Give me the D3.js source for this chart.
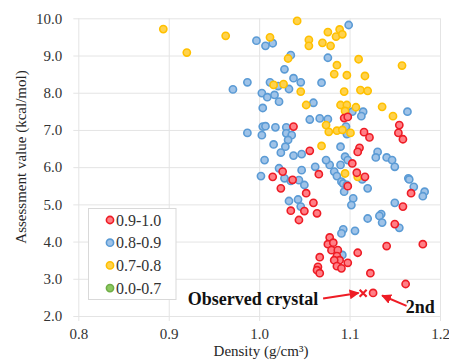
<!DOCTYPE html>
<html>
<head>
<meta charset="utf-8">
<script src="https://cdn.jsdelivr.net/npm/d3@7"></script>
<style>
  body { margin: 0; background: #fff; }
  svg { display: block; }
  text { font-family: "Liberation Serif", "Times New Roman", serif; }
</style>
</head>
<body>
<div id="chart"></div>
<script>
const xTicks = [0.8, 0.9, 1.0, 1.1, 1.2];
const yTicks = [2, 3, 4, 5, 6, 7, 8, 9, 10];
const legendLabels = ["0.9-1.0", "0.8-0.9", "0.7-0.8", "0.0-0.7"];

// [density, assessment value]
const red = [
  [1.015, 5.74], [1.038, 7.09], [1.094, 7.32], [1.098, 7.35], [1.155, 7.13], [1.154, 6.92],
  [1.159, 6.75], [1.116, 6.94], [1.122, 6.80], [1.111, 6.52], [1.109, 6.41], [1.056, 6.44],
  [1.103, 6.10], [1.026, 5.88], [1.066, 5.81], [1.108, 5.85], [1.117, 5.74], [1.037, 5.66],
  [1.024, 5.43], [1.052, 5.30], [1.060, 5.04], [1.035, 4.83], [1.050, 4.82], [1.064, 4.76],
  [1.044, 4.58], [1.098, 5.49], [1.168, 5.30], [1.159, 4.94], [1.150, 4.47],
  [1.078, 4.11], [1.076, 3.93], [1.082, 3.97], [1.080, 3.77], [1.087, 3.77], [1.086, 3.61],
  [1.089, 3.50], [1.083, 3.50], [1.086, 3.34], [1.091, 3.28], [1.067, 3.58], [1.065, 3.32],
  [1.064, 3.23], [1.067, 3.15], [1.098, 3.43], [1.109, 3.70], [1.141, 3.88], [1.181, 3.93],
  [1.123, 3.15], [1.162, 2.86], [1.126, 2.62]
];
const blue = [
  [0.997, 9.40], [1.007, 9.26], [1.015, 9.33], [1.099, 9.82], [0.987, 8.28], [0.971, 8.09],
  [1.012, 8.28], [1.003, 7.99], [1.009, 7.88], [1.004, 7.59], [1.004, 7.09], [1.007, 7.10],
  [0.987, 6.92], [1.003, 6.86], [1.006, 6.19], [1.002, 5.76], [1.035, 9.01], [1.076, 8.94],
  [1.028, 8.63], [1.021, 8.18], [1.033, 8.10], [1.038, 8.39], [1.046, 8.28], [1.069, 8.27],
  [1.017, 7.94], [1.022, 7.76], [1.060, 7.73], [1.115, 7.49], [1.103, 7.49], [1.164, 7.49],
  [1.113, 7.37], [1.056, 7.28], [1.067, 7.31], [1.076, 7.29], [1.097, 6.89], [1.018, 7.07],
  [1.030, 7.07], [1.030, 6.91], [1.036, 6.86], [1.032, 6.73], [1.016, 6.61], [1.029, 6.55],
  [1.090, 6.55], [1.024, 6.39], [1.038, 6.31], [1.047, 6.35], [1.095, 6.28], [1.098, 6.19],
  [1.131, 6.41], [1.129, 6.26], [1.141, 6.26], [1.147, 6.19], [1.150, 6.01], [1.062, 6.01],
  [1.078, 6.06], [1.083, 5.88], [1.090, 6.06], [1.022, 5.97], [1.047, 5.92], [1.086, 5.76],
  [1.165, 5.70], [1.074, 6.19], [1.028, 5.70], [1.035, 5.63], [1.044, 5.65], [1.050, 5.52],
  [1.033, 5.09], [1.043, 5.13], [1.046, 4.94], [1.091, 5.61], [1.094, 5.34], [1.114, 5.67],
  [1.093, 5.56], [1.097, 5.52], [1.120, 5.43], [1.104, 5.16], [1.102, 4.98], [1.166, 5.67],
  [1.171, 5.47], [1.183, 5.34], [1.181, 5.22], [1.150, 5.04], [1.135, 4.74], [1.120, 4.62],
  [1.133, 4.69], [1.136, 4.51], [1.155, 4.37], [1.106, 4.29], [1.093, 4.33], [1.091, 4.22],
  [1.092, 3.64], [1.096, 7.09]
];
const yellow = [
  [0.894, 9.71], [0.963, 9.53], [0.920, 9.08], [1.012, 9.49], [1.042, 9.93], [1.055, 9.42],
  [1.055, 9.26], [1.070, 9.34], [1.076, 9.63], [1.079, 9.26], [1.085, 9.51], [1.089, 9.70],
  [1.092, 9.57], [1.032, 8.92], [1.086, 8.74], [1.083, 8.50], [1.016, 8.21], [1.027, 8.23],
  [1.046, 8.03], [1.052, 7.67], [1.090, 7.67], [1.110, 8.90], [1.158, 8.73], [1.097, 8.47],
  [1.117, 8.45], [1.094, 8.03], [1.112, 8.07], [1.120, 8.05], [1.097, 7.67], [1.107, 7.61],
  [1.136, 7.62], [1.148, 7.37], [1.095, 7.51], [1.074, 7.13], [1.077, 6.95], [1.086, 6.98],
  [1.092, 7.00], [1.101, 6.92], [1.069, 6.57], [1.095, 5.83], [1.109, 5.74]
];
const green = [];
const observed = [1.115, 2.61];

const colors = [
  { fill: "#ff7f86", stroke: "#ee1c25" },
  { fill: "#9fc3e8", stroke: "#5b9bd5" },
  { fill: "#ffd24d", stroke: "#ffc000" },
  { fill: "#8cc960", stroke: "#70ad47" }
];

const W = 449, H = 360;
const margin = { left: 78.3, top: 18.3, right: 9, bottom: 44 };
const width = 440 - margin.left;
const height = 316 - margin.top;

const svg = d3.select("#chart").append("svg")
  .attr("width", W).attr("height", H);
const g = svg.append("g")
  .attr("transform", "translate(" + margin.left + "," + margin.top + ")");

const x = d3.scaleLinear().domain([0.8, 1.2]).range([0, width]);
const y = d3.scaleLinear().domain([2, 10]).range([height, 0]);

// y axis + horizontal grid
const yAxis = g.append("g")
  .attr("transform", "translate(-5,0)")
  .call(d3.axisLeft(y).tickValues(yTicks).tickFormat(d3.format(".1f"))
    .tickSize(-(width + 5)).tickPadding(11));
yAxis.select(".domain").remove();

// x axis + vertical grid
const xAxis = g.append("g")
  .attr("transform", "translate(0," + (height + 5) + ")")
  .call(d3.axisBottom(x).tickValues(xTicks).tickFormat(d3.format(".1f"))
    .tickSize(-(height + 5)).tickPadding(7));
xAxis.select(".domain").remove();

g.selectAll(".tick line").attr("stroke", "#e4e4e4").attr("stroke-width", 1);
g.selectAll(".tick text")
  .attr("fill", "#333")
  .style("font-family", "'Liberation Serif', serif")
  .style("font-size", "15px");

// points
function drawSeries(data, c) {
  g.append("g").selectAll("circle")
    .data(data)
    .enter()
    .append("circle")
    .attr("cx", d => x(d[0]))
    .attr("cy", d => y(d[1]))
    .attr("r", 3.6)
    .attr("fill", c.fill)
    .attr("stroke", c.stroke)
    .attr("stroke-width", 1.6);
}
drawSeries(blue, colors[1]);
drawSeries(yellow, colors[2]);
drawSeries(red, colors[0]);
drawSeries(green, colors[3]);

// observed crystal marker
const ox = x(observed[0]), oy = y(observed[1]);
g.append("path")
  .attr("d", "M" + (ox - 3.5) + "," + (oy - 3.5) + "L" + (ox + 3.5) + "," + (oy + 3.5) +
             "M" + (ox - 3.5) + "," + (oy + 3.5) + "L" + (ox + 3.5) + "," + (oy - 3.5))
  .attr("stroke", "#ee1c25").attr("stroke-width", 2.2);

// annotations
svg.append("defs").append("marker")
  .attr("id", "ah")
  .attr("viewBox", "0 0 10 10")
  .attr("refX", 9).attr("refY", 5)
  .attr("markerWidth", 5).attr("markerHeight", 5)
  .attr("orient", "auto")
  .append("path").attr("d", "M0,0L10,5L0,10z").attr("fill", "#ee1c25");

function arrow(from, to) {
  g.append("line")
    .attr("x1", x(from[0])).attr("y1", y(from[1]))
    .attr("x2", x(to[0])).attr("y2", y(to[1]))
    .attr("stroke", "#ee1c25").attr("stroke-width", 2)
    .attr("marker-end", "url(#ah)");
}
arrow([1.0707, 2.47], [1.110, 2.62]);
arrow([1.163, 2.27], [1.136, 2.55]);

g.append("text")
  .attr("x", x(0.921)).attr("y", y(2.29))
  .attr("fill", "#111")
  .style("font-size", "18px").style("font-weight", "bold")
  .text("Observed crystal");
g.append("text")
  .attr("x", x(1.162)).attr("y", y(2.08))
  .attr("fill", "#111")
  .style("font-size", "18px").style("font-weight", "bold")
  .text("2nd");

// legend
const legend = svg.append("g").attr("transform", "translate(88.5,208.5)");
legend.append("rect")
  .attr("width", 87.5).attr("height", 91)
  .attr("fill", "#fff").attr("stroke", "#d9d9d9");
legendLabels.forEach((lab, i) => {
  const row = legend.append("g").attr("transform", "translate(0," + (11.5 + i * 22.7) + ")");
  row.append("circle").attr("cx", 21.5).attr("cy", 0).attr("r", 3.6)
    .attr("fill", colors[i].fill).attr("stroke", colors[i].stroke).attr("stroke-width", 1.6);
  row.append("text").attr("x", 27.5).attr("y", 5.5)
    .attr("fill", "#333").style("font-size", "16px").text(lab);
});

// axis titles
svg.append("text")
  .attr("x", 261).attr("y", 356)
  .attr("text-anchor", "middle").attr("fill", "#262626")
  .style("font-size", "15px")
  .text("Density (g/cm³)");
svg.append("text")
  .attr("transform", "translate(26,157) rotate(-90)")
  .attr("text-anchor", "middle").attr("fill", "#262626")
  .style("font-size", "15px")
  .text("Assessment value (kcal/mol)");
</script>
</body>
</html>
